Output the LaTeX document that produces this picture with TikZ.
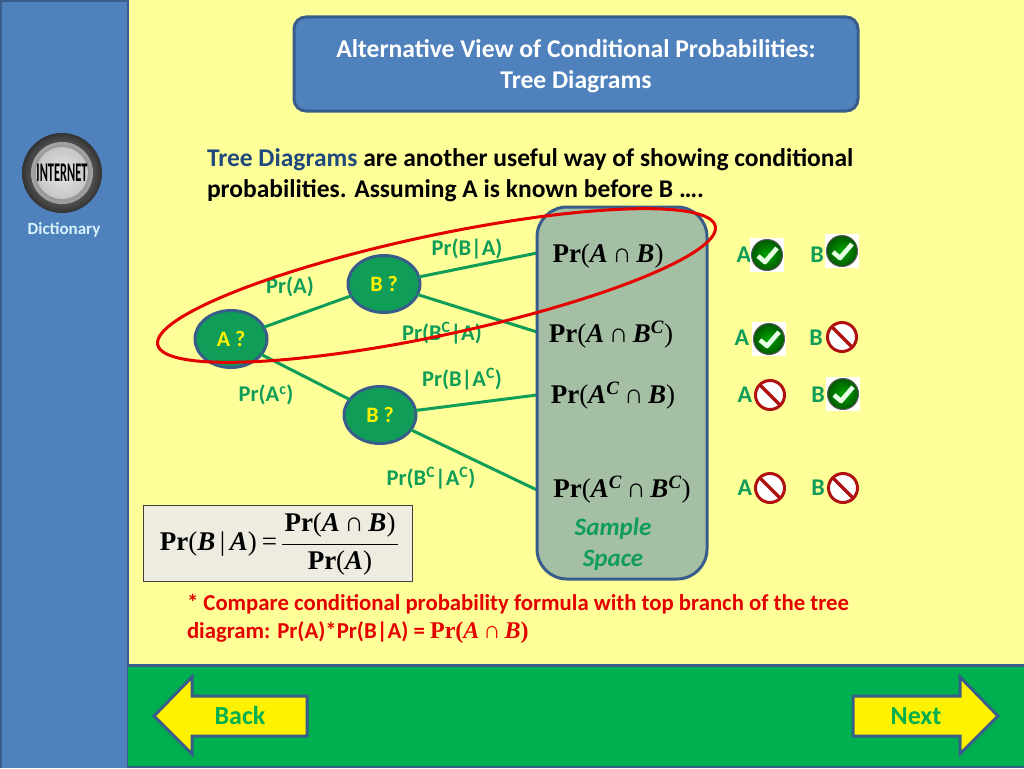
\documentclass[tikz,border=0pt]{standalone}
\usepackage{fontspec}
\setmainfont{Carlito}
\newfontfamily\mathserif{Liberation Serif}
\usetikzlibrary{calc,shapes.geometric}
\definecolor{bgyellow}{HTML}{FFFF99}
\definecolor{panelblue}{HTML}{4F81BD}
\definecolor{edgeblue}{HTML}{385D8A}
\definecolor{grn}{HTML}{00B050}
\definecolor{nodegrn}{HTML}{0F9D58}
\definecolor{samplefill}{HTML}{A5BFA5}
\definecolor{darkred}{HTML}{B01010}
\definecolor{titlenavy}{HTML}{1F497D}
\definecolor{formulafill}{HTML}{EEECE1}
\newcommand{\mPr}{{\mathserif\bfseries Pr}}
\newcommand{\mv}[1]{{\mathserif\bfseries\itshape #1}}
\newcommand{\mo}[1]{{\mathserif #1}}
\newcommand{\mcap}{\,{\mathserif ∩}\,}
\newcommand{\mexp}[1]{\mv{#1}\textsuperscript{\mv{C}}}
\tikzset{
  x=1pt,y=-1pt,
  every node/.style={inner sep=0pt,outer sep=0pt},
  panel/.style={draw=edgeblue,line width=3pt,fill=panelblue},
  qnode/.style={ellipse,draw=edgeblue,line width=3pt,fill=nodegrn,minimum width=72pt,minimum height=57pt,text=yellow,font=\fontsize{22}{24}\selectfont\bfseries},
  branch/.style={draw=nodegrn,line width=3pt},
  plabel/.style={text=nodegrn,font=\fontsize{22.5}{26}\selectfont\bfseries},
  mathlabel/.style={font=\fontsize{27}{30}\selectfont},
  ablabel/.style={text=nodegrn,font=\fontsize{24}{26}\selectfont\bfseries},
  navarrow/.style={draw=edgeblue,line width=3pt,fill=yellow},
  navtext/.style={text=grn,font=\fontsize{26}{28}\selectfont\bfseries},
}
\newcommand{\yes}[2]{%
  \fill[white] ($(#1,#2)+(-17,-17)$) rectangle ($(#1,#2)+(17,17)$);
  \shade[inner color=green!65!black,outer color=green!35!black,draw=gray!70!black,line width=1pt] (#1,#2) circle (15.5);
  \draw[white!90!green,line width=4.6pt,line join=round] ($(#1,#2)+(-9,1)$) -- ($(#1,#2)+(-2,7)$) -- ($(#1,#2)+(10,-7)$);
}
\newcommand{\no}[2]{%
  \draw[darkred,line width=3pt,fill=white] (#1,#2) circle (14.5);
  \draw[darkred,line width=3.4pt] ($(#1,#2)+(-10,-10)$) -- ($(#1,#2)+(10,10)$);
}
\begin{document}
\begin{tikzpicture}
\useasboundingbox (0,0) rectangle (1024,768);
\fill[bgyellow] (0,0) rectangle (1024,768);
% panels
\fill[panelblue] (0,0) rectangle (128,768);
\draw[edgeblue,line width=2.5pt] (1,0) -- (1,768) (128,0) -- (128,768);
\draw[edgeblue,line width=2.5pt] (0,0.5) -- (128,0.5);
\fill[grn] (128,665) rectangle (1024,768);
\draw[edgeblue,line width=3pt] (128,665) -- (1024,665);
\draw[edgeblue,line width=2pt] (128,767) -- (1024,767);
% internet icon
\shade[inner color=gray!60,outer color=black!80] (62,173) circle (40);
\shade[inner color=black!75,outer color=gray!70] (62,173) circle (31);
\shade[inner color=white!90!black,outer color=gray!45] (62,173) circle (26);
\node[font=\fontsize{27}{29}\selectfont\bfseries,text=black,xscale=0.46] (inet) at (62,173) {INTERNET};
\node[text=white!85!cyan,font=\fontsize{17}{19}\selectfont\bfseries] (dict) at (64,230) {Dictionary};
% title
\draw[panel,rounded corners=12pt] (294,17) rectangle (858,111);
\node[text=white,align=center,font=\fontsize{25.6}{31}\selectfont\bfseries] (title) at (576,66) {Alternative View of Conditional Probabilities:\\Tree Diagrams};
% intro
\node[anchor=north west,align=left,font=\fontsize{25.5}{31}\selectfont\bfseries] (intro) at (207,149) {{\color{titlenavy}Tree Diagrams} are another useful way of showing conditional\\probabilities. Assuming A is known before B ….};
% nodes
\node[qnode] (A) at (231,339) {A ?};
\node[qnode] (B1) at (384,284) {B ?};
\node[qnode] (B2) at (380,415) {B ?};
\coordinate (e1) at (537,253);
\coordinate (e2) at (537,332);
\coordinate (e3) at (537,395);
\coordinate (e4) at (537,490);
\draw[branch] (A) -- (B1);
\draw[branch] (A) -- (B2);
\draw[branch] (B1) -- (e1);
\draw[branch] (B1) -- (e2);
\draw[branch] (B2) -- (e3);
\draw[branch] (B2) -- (e4);
% sample space
\draw[panel,fill=samplefill,rounded corners=30pt] (537,207) rectangle (707,579);
\node[text=nodegrn,align=center,font=\fontsize{25}{31}\selectfont\bfseries\itshape] (ss) at (613,544) {Sample\\Space};
% outcomes
\node[mathlabel] (o1) at (608,256.5) {\mPr\mo{(}\mv{A}\mcap\mv{B}\mo{)}};
\node[mathlabel] (o2) at (611,334.5) {\mPr\mo{(}\mv{A}\mcap\mexp{B}\mo{)}};
\node[mathlabel] (o3) at (613,395.5) {\mPr\mo{(}\mexp{A}\mcap\mv{B}\mo{)}};
\node[mathlabel] (o4) at (622,489.5) {\mPr\mo{(}\mexp{A}\mcap\mexp{B}\mo{)}};
% labels
\node[plabel] (l1) at (290,287) {Pr(A)};
\node[plabel] (l2) at (467,249) {Pr(B|A)};
\node[plabel] (l3) at (442,333) {Pr(B\textsuperscript{C}|A)};
\node[plabel] (l4) at (266,395) {Pr(A\textsuperscript{c})};
\node[plabel] (l5) at (462,379) {Pr(B|A\textsuperscript{C})};
\node[plabel] (l6) at (431,478) {Pr(B\textsuperscript{C}|A\textsuperscript{C})};
% checks
\node[ablabel] (a1) at (744,255) {A};
\yes{767}{255}
\node[ablabel] (b1) at (817,255) {B};
\yes{842}{251}
\node[ablabel] (a2) at (742,338) {A};
\yes{769}{339}
\node[ablabel] (b2) at (816,338) {B};
\no{842}{337}
\node[ablabel] (a3) at (745,395) {A};
\no{770}{395}
\node[ablabel] (b3) at (818,395) {B};
\yes{843}{394}
\node[ablabel] (a4) at (745,488) {A};
\no{770}{488}
\node[ablabel] (b4) at (818,488) {B};
\no{843}{488}
% ellipse
\draw[red!90!black,line width=3pt,rotate around={12:(436.5,285.5)}] (436.5,285.5) ellipse (285 and 50);
% formula
\draw[draw=black!75,line width=1pt,fill=formulafill] (143,505) rectangle (412,581);
\node[mathlabel,anchor=east] (f1) at (277,544) {\mPr\mo{(}\mv{B}\,\mo{|}\,\mv{A}\mo{)}\hspace{5pt}\mo{=}};
\node[mathlabel] (f2) at (340,525) {\mPr\mo{(}\mv{A}\mcap\mv{B}\mo{)}};
\node[mathlabel] (f3) at (340,563) {\mPr\mo{(}\mv{A}\mo{)}};
\draw[line width=1.2pt] (282,544.5) -- (398,544.5);
% note
\node[anchor=north west,align=left,text=red!90!black,font=\fontsize{22.75}{28}\selectfont\bfseries] (note) at (187,594.5) {* Compare conditional probability formula with top branch of the tree\\diagram: Pr(A)*Pr(B|A) = {\fontsize{24}{28}\selectfont\mPr\mo{(}\mv{A}\mcap\mv{B}\mo{)}}};
% nav
\draw[navarrow,line join=miter] (307,696) -- (192,696) -- (192,677) -- (154,716) -- (192,754) -- (192,736) -- (307,736) -- cycle;
\node[navtext] (back) at (240,715) {Back};
\draw[navarrow,line join=miter] (853,696) -- (960,696) -- (960,677) -- (998,716) -- (960,754) -- (960,736) -- (853,736) -- cycle;
\node[navtext] (next) at (916,716) {Next};
\end{tikzpicture}
\end{document}
